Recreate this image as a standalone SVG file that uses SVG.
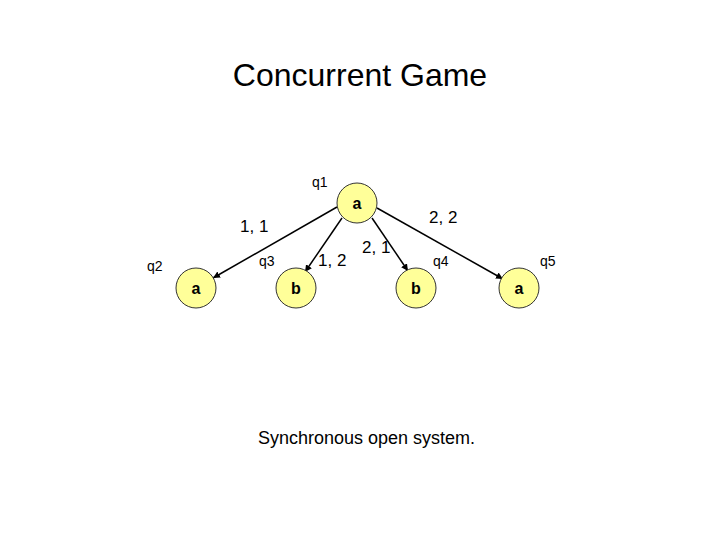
<svg xmlns="http://www.w3.org/2000/svg" width="720" height="540" viewBox="0 0 720 540">
<style>
text{font-family:"Liberation Sans",Arial,sans-serif;fill:#000}
.n{fill:#ffff99;stroke:#333;stroke-width:1}
.nl{font-size:16px;text-anchor:middle;font-weight:bold}
.ql{font-size:14px}
.el{font-size:17px}
.e{stroke:#000;stroke-width:1.5;fill:none;marker-end:url(#ah)}
</style>
<defs><marker id="ah" viewBox="0 0 10 10" refX="10" refY="5" markerWidth="7" markerHeight="7" orient="auto" markerUnits="userSpaceOnUse"><path d="M0,0L10,5L0,10z" fill="#000"/></marker></defs>
<rect width="720" height="540" fill="#fff"/>
<text x="360" y="86" font-size="32" text-anchor="middle">Concurrent Game</text>
<g id="edges">
<path class="e" d="M337,207L213,278"/>
<path class="e" d="M342,218L305,272"/>
<path class="e" d="M372,218L408,271"/>
<path class="e" d="M377,208L503,279"/>
<text class="el" x="240" y="232">1, 1</text>
<text class="el" x="429" y="223">2, 2</text>
<text class="el" x="318" y="266">1, 2</text>
<text class="el" x="362" y="253">2, 1</text>
</g>
<g id="q1"><circle class="n" cx="357" cy="203" r="20"/><text class="nl" x="357" y="209">a</text><text class="ql" x="312" y="187">q1</text></g>
<g id="q2"><circle class="n" cx="196" cy="288" r="20"/><text class="nl" x="196" y="294">a</text><text class="ql" x="147" y="271">q2</text></g>
<g id="q3"><circle class="n" cx="296" cy="288" r="20"/><text class="nl" x="296" y="294">b</text><text class="ql" x="259" y="266">q3</text></g>
<g id="q4"><circle class="n" cx="416" cy="288" r="20"/><text class="nl" x="416" y="294">b</text><text class="ql" x="433" y="266">q4</text></g>
<g id="q5"><circle class="n" cx="519" cy="288" r="20"/><text class="nl" x="519" y="294">a</text><text class="ql" x="540" y="266">q5</text></g>
<text x="258" y="444" font-size="18">Synchronous open system.</text>
</svg>
